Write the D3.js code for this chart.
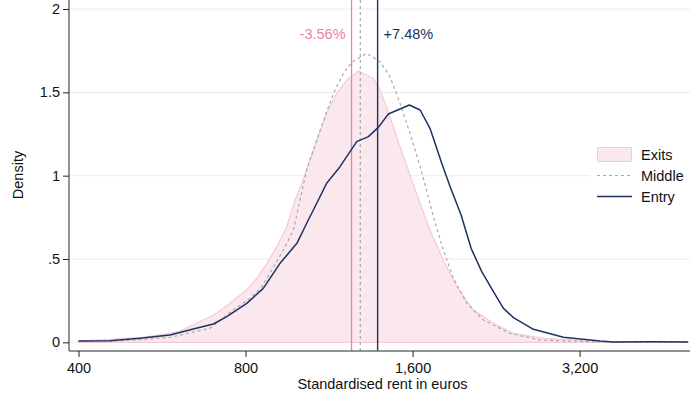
<!DOCTYPE html>
<html>
<head>
<meta charset="utf-8">
<script src="https://cdn.jsdelivr.net/npm/d3@7"></script>
<style>
  body { margin: 0; background: #fff; }
  svg { display: block; font-family: "Liberation Sans", Arial, sans-serif; }
</style>
</head>
<body>
<svg id="chart" width="690" height="403"></svg>
<script>
// Kernel densities of standardised rent (log scale x)
const exitsRent    = [400, 523, 585, 610, 671, 700, 730, 804, 838, 874, 911, 949, 983, 1010, 1060, 1120, 1168, 1218, 1278, 1360, 1398, 1457, 1519, 1583, 1651, 1720, 1818, 1922, 2060, 2238, 2432, 2754, 3484, 5020];
const exitsDensity = [0.008, 0.030, 0.054, 0.068, 0.134, 0.164, 0.204, 0.314, 0.384, 0.474, 0.574, 0.694, 0.854, 0.954, 1.154, 1.374, 1.494, 1.574, 1.628, 1.584, 1.514, 1.354, 1.174, 1.004, 0.834, 0.674, 0.492, 0.334, 0.194, 0.114, 0.054, 0.024, 0.005, 0.001];

const middleRent    = [400, 456, 516, 585, 690, 760, 815, 856, 892, 936, 976, 1003, 1031, 1075, 1120, 1160, 1201, 1243, 1323, 1398, 1457, 1519, 1583, 1651, 1708, 1744, 1818, 1896, 2004, 2147, 2398, 2716, 3484, 5020];
const middleDensity = [0.005, 0.008, 0.015, 0.030, 0.084, 0.194, 0.264, 0.334, 0.434, 0.554, 0.674, 0.854, 1.034, 1.214, 1.384, 1.514, 1.614, 1.680, 1.734, 1.684, 1.594, 1.434, 1.254, 1.054, 0.874, 0.754, 0.554, 0.384, 0.234, 0.134, 0.054, 0.014, 0.002, 0.001];

const entryRent    = [400, 456, 516, 585, 644, 700, 740, 804, 861, 923, 990, 1038, 1060, 1120, 1184, 1269, 1332, 1388, 1447, 1579, 1651, 1720, 1806, 1870, 1957, 2040, 2132, 2238, 2333, 2432, 2642, 2992, 3484, 3678, 4300, 5020];
const entryDensity = [0.008, 0.010, 0.024, 0.044, 0.080, 0.110, 0.154, 0.234, 0.324, 0.474, 0.594, 0.734, 0.794, 0.954, 1.054, 1.204, 1.234, 1.290, 1.370, 1.424, 1.394, 1.284, 1.074, 0.934, 0.764, 0.564, 0.424, 0.304, 0.204, 0.148, 0.078, 0.030, 0.008, 0.002, 0.004, 0.002];

// medians shown as vertical lines
const medianExits = 1242;
const medianMiddle = 1288;
const medianEntry = 1384;
const diffLabels = ["-3.56%", "+7.48%"];

const xTicks = [400, 800, 1600, 3200];
const yTicks = [0, 0.5, 1, 1.5, 2];
const legendLabels = ["Exits", "Middle", "Entry"];

const colExits = "#f07f9e", colExitsFill = "#fae8ee", colExitsEdge = "#f5cad6";
const colMiddle = "#a9a9a9", colEntry = "#1d3263";
const fontSize = 14.5;

const svg = d3.select("#chart");
const plotLeft = 69, plotRight = 690, plotTop = 0, plotBottom = 351;

const x = d3.scaleLog().domain([384.5, 5060]).range([plotLeft, plotRight]);
const y = d3.scaleLinear().domain([-0.052, 2.054]).range([plotBottom, plotTop]);

// gridlines
svg.append("g").selectAll("line")
  .data(yTicks)
  .join("line")
  .attr("x1", plotLeft).attr("x2", plotRight)
  .attr("y1", d => y(d)).attr("y2", d => y(d))
  .attr("stroke", "#ececec").attr("stroke-width", 1);

const pairs = (xs, ys) => xs.map((v, i) => [v, ys[i]]);

// exits area
const area = d3.area().x(d => x(d[0])).y0(y(0)).y1(d => y(d[1]));
svg.append("path")
  .datum(pairs(exitsRent, exitsDensity))
  .attr("d", area)
  .attr("fill", colExitsFill)
  .attr("stroke", colExitsEdge)
  .attr("stroke-width", 1.2);

const line = d3.line().x(d => x(d[0])).y(d => y(d[1]));

// vertical median lines
svg.append("line")
  .attr("x1", x(medianExits)).attr("x2", x(medianExits))
  .attr("y1", plotTop).attr("y2", plotBottom)
  .attr("stroke", colExits).attr("stroke-width", 1.3);
svg.append("line")
  .attr("x1", x(medianMiddle)).attr("x2", x(medianMiddle))
  .attr("y1", plotTop).attr("y2", plotBottom)
  .attr("stroke", colMiddle).attr("stroke-width", 1.2)
  .attr("stroke-dasharray", "3,3");
svg.append("line")
  .attr("x1", x(medianEntry)).attr("x2", x(medianEntry))
  .attr("y1", plotTop).attr("y2", plotBottom)
  .attr("stroke", colEntry).attr("stroke-width", 1.4);

svg.append("path")
  .datum(pairs(middleRent, middleDensity))
  .attr("d", line)
  .attr("fill", "none")
  .attr("stroke", colMiddle).attr("stroke-width", 1.2)
  .attr("stroke-dasharray", "3,3");

svg.append("path")
  .datum(pairs(entryRent, entryDensity))
  .attr("d", line)
  .attr("fill", "none")
  .attr("stroke", colEntry).attr("stroke-width", 1.5)
  .attr("stroke-linejoin", "round");

// percentage labels
svg.append("text")
  .attr("x", x(medianExits) - 6).attr("y", 39)
  .attr("text-anchor", "end")
  .attr("font-size", fontSize)
  .attr("fill", colExits)
  .text(diffLabels[0]);
svg.append("text")
  .attr("x", x(medianEntry) + 6).attr("y", 39)
  .attr("text-anchor", "start")
  .attr("font-size", fontSize)
  .attr("fill", colEntry)
  .text(diffLabels[1]);

// axes
const fmt = d3.format(",");
const xAxis = svg.append("g")
  .attr("transform", `translate(0,${plotBottom})`)
  .call(d3.axisBottom(x).tickValues(xTicks).tickFormat(fmt).tickSize(6).tickSizeOuter(0));
const yAxis = svg.append("g")
  .attr("transform", `translate(${plotLeft},0)`)
  .call(d3.axisLeft(y).tickValues(yTicks).tickFormat(d => d === 0 ? "0" : String(d).replace(/^0\./, ".")).tickSize(6).tickSizeOuter(0));

[xAxis, yAxis].forEach(a => {
  a.select(".domain").attr("stroke", "#6e6e6e").attr("stroke-width", 1.5);
  a.selectAll(".tick line").attr("stroke", "#222");
  a.selectAll(".tick text").attr("font-size", fontSize).attr("fill", "#111")
    .attr("font-family", "'Liberation Sans', Arial, sans-serif");
});
xAxis.select(".domain").attr("d", `M${plotLeft},0H${plotRight}`);
yAxis.select(".domain").attr("d", `M0,${plotTop}V${plotBottom}`);
xAxis.selectAll(".tick text").attr("dy", "0.9em");
yAxis.selectAll(".tick text").attr("x", -9);

svg.append("text")
  .attr("x", (plotLeft + plotRight) / 2 + 3).attr("y", 389)
  .attr("text-anchor", "middle")
  .attr("font-size", fontSize).attr("fill", "#111")
  .text("Standardised rent in euros");

svg.append("text")
  .attr("transform", "translate(23,175) rotate(-90)")
  .attr("text-anchor", "middle")
  .attr("font-size", fontSize).attr("fill", "#111")
  .text("Density");

// legend
const lg = svg.append("g");
lg.append("rect")
  .attr("x", 590).attr("y", 138).attr("width", 100).attr("height", 72)
  .attr("fill", "#fff");
lg.append("rect")
  .attr("x", 597.5).attr("y", 147.5).attr("width", 34).attr("height", 14)
  .attr("fill", colExitsFill).attr("stroke", colExitsEdge);
lg.append("line")
  .attr("x1", 597).attr("x2", 632).attr("y1", 175.5).attr("y2", 175.5)
  .attr("stroke", colMiddle).attr("stroke-width", 1.2).attr("stroke-dasharray", "3,3");
lg.append("line")
  .attr("x1", 597).attr("x2", 632).attr("y1", 196.5).attr("y2", 196.5)
  .attr("stroke", colEntry).attr("stroke-width", 1.5);
lg.selectAll("text")
  .data(legendLabels)
  .join("text")
  .attr("x", 641)
  .attr("y", (d, i) => [155, 176, 197][i])
  .attr("dy", "0.35em")
  .attr("font-size", fontSize).attr("fill", "#111")
  .text(d => d);
</script>
</body>
</html>
